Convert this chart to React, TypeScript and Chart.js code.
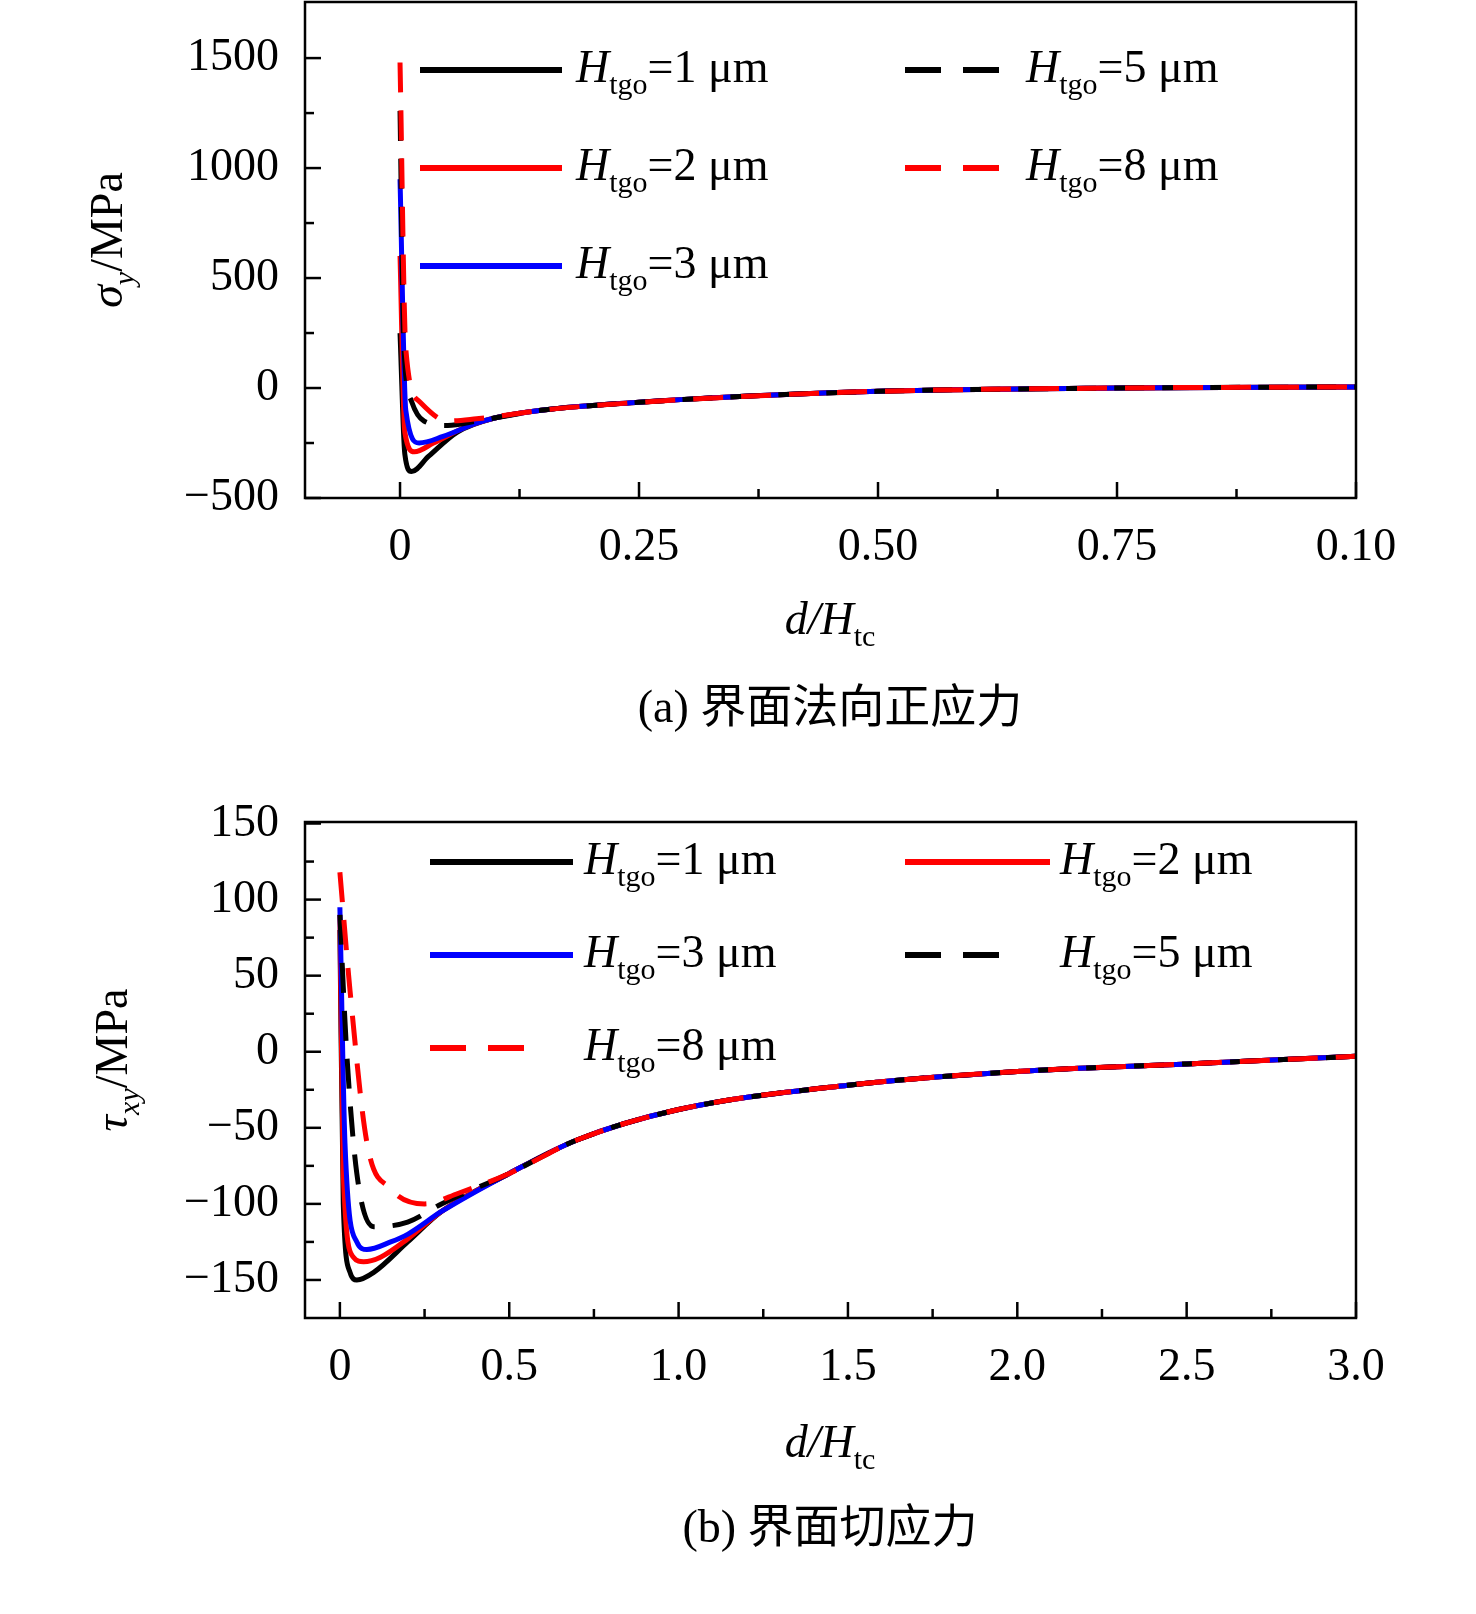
import React, { useEffect, useRef } from "react";
import { Chart, registerables } from "chart.js";
Chart.register(...registerables);

const topH1 = [[0,250],[0.005,-300],[0.012,-380],[0.03,-310],[0.06,-200],[0.1,-135],[0.15,-100],[0.25,-65],[0.35,-40],[0.5,-15],[0.75,0],[1.0,5]];
const topH2 = [[0,600],[0.005,-200],[0.015,-290],[0.035,-250],[0.07,-175],[0.1,-135],[0.15,-100],[0.25,-65],[0.35,-40],[0.5,-15],[0.75,0],[1.0,5]];
const topH3 = [[0,950],[0.006,-100],[0.02,-250],[0.045,-220],[0.08,-160],[0.1,-135],[0.15,-100],[0.25,-65],[0.35,-40],[0.5,-15],[0.75,0],[1.0,5]];
const topH5 = [[0,1260],[0.004,200],[0.012,-60],[0.025,-150],[0.05,-170],[0.08,-150],[0.1,-135],[0.15,-100],[0.25,-65],[0.35,-40],[0.5,-15],[0.75,0],[1.0,5]];
const topH8 = [[0,1480],[0.006,180],[0.02,-60],[0.05,-150],[0.08,-140],[0.1,-130],[0.15,-100],[0.25,-65],[0.35,-40],[0.5,-15],[0.75,0],[1.0,5]];

const botH1 = [[0,80],[0.01,-100],[0.03,-145],[0.05,-150],[0.1,-145],[0.2,-125],[0.3,-105],[0.5,-80],[0.7,-58],[1.0,-38],[1.5,-22],[2.0,-13],[2.5,-8],[3.0,-3]];
const botH2 = [[0,90],[0.01,-80],[0.04,-135],[0.07,-138],[0.12,-135],[0.2,-123],[0.3,-105],[0.5,-80],[0.7,-58],[1.0,-38],[1.5,-22],[2.0,-13],[2.5,-8],[3.0,-3]];
const botH3 = [[0,95],[0.015,-60],[0.05,-125],[0.08,-130],[0.15,-125],[0.2,-120],[0.3,-105],[0.5,-80],[0.7,-58],[1.0,-38],[1.5,-22],[2.0,-13],[2.5,-8],[3.0,-3]];
const botH5 = [[0,90],[0.02,0],[0.05,-80],[0.1,-115],[0.2,-112],[0.3,-100],[0.5,-80],[0.7,-58],[1.0,-38],[1.5,-22],[2.0,-13],[2.5,-8],[3.0,-3]];
const botH8 = [[0,118],[0.03,40],[0.08,-60],[0.15,-90],[0.25,-100],[0.35,-93],[0.5,-80],[0.7,-58],[1.0,-38],[1.5,-22],[2.0,-13],[2.5,-8],[3.0,-3]];

const topXTicks = [0, 0.25, 0.5, 0.75, 1.0];
const topXLabels = ["0", "0.25", "0.50", "0.75", "0.10"];
const topYTicks = [-500, 0, 500, 1000, 1500];
const botXTicks = [0, 0.5, 1.0, 1.5, 2.0, 2.5, 3.0];
const botXLabels = ["0", "0.5", "1.0", "1.5", "2.0", "2.5", "3.0"];
const botYTicks = [-150, -100, -50, 0, 50, 100, 150];
const legendValues = ["1", "2", "3", "5", "8"];

const SERIF = "'Liberation Serif', 'Times New Roman', serif";
const DASH = [30, 18];
const LEGEND_DASH = [36, 22];

function fmt(v: number) { return v < 0 ? "\u2212" + Math.abs(v) : String(v); }

function drawHLabel(ctx: any, x: number, y: number, val: string) {
  ctx.textBaseline = "middle"; ctx.textAlign = "left"; ctx.fillStyle = "#000";
  ctx.font = `italic 46px ${SERIF}`; ctx.fillText("H", x, y);
  let w = ctx.measureText("H").width;
  ctx.font = `30px ${SERIF}`; ctx.fillText("tgo", x + w, y + 16);
  w += ctx.measureText("tgo").width;
  ctx.font = `46px ${SERIF}`; ctx.fillText("=" + val + " \u03bcm", x + w, y);
}

type Cfg = {
  series: number[][][]; colors: string[]; dashed: boolean[];
  xmin: number; xmax: number; ymin: number; ymax: number;
  xTicks: number[]; xLabels: string[]; yTicks: number[]; xMinor: number[]; yMinor: number[];
  padTop: number; plotBottom: number; height: number;
  legend: { x1: number; x2: number; tx: number; y: number; idx: number }[];
  yTitle: [string, string]; yTitleX: number; xTitleY: number; caption: string; captionY: number;
};

function ChartBox({ cfg, top }: { cfg: Cfg; top: number }) {
  const ref = useRef<HTMLCanvasElement>(null);
  useEffect(() => {
    const deco = {
      id: "deco",
      afterDraw(chart: any) {
        const ctx = chart.ctx; const a = chart.chartArea;
        const xs = chart.scales.x, ys = chart.scales.y;
        ctx.save();
        ctx.strokeStyle = "#000"; ctx.lineWidth = 2.5; ctx.setLineDash([]);
        ctx.strokeRect(a.left, a.top, a.right - a.left, a.bottom - a.top);
        const tk = (x1: number, y1: number, x2: number, y2: number) => { ctx.beginPath(); ctx.moveTo(x1, y1); ctx.lineTo(x2, y2); ctx.stroke(); };
        cfg.xTicks.forEach(v => { const p = xs.getPixelForValue(v); tk(p, a.bottom, p, a.bottom - 16); });
        cfg.xMinor.forEach(v => { const p = xs.getPixelForValue(v); tk(p, a.bottom, p, a.bottom - 9); });
        cfg.yTicks.forEach(v => { const p = ys.getPixelForValue(v); tk(a.left, p, a.left + 16, p); });
        cfg.yMinor.forEach(v => { const p = ys.getPixelForValue(v); tk(a.left, p, a.left + 9, p); });
        cfg.legend.forEach(l => {
          ctx.strokeStyle = cfg.colors[l.idx]; ctx.lineWidth = 6;
          ctx.setLineDash(cfg.dashed[l.idx] ? LEGEND_DASH : []);
          tk(l.x1, l.y, l.x2, l.y);
          ctx.setLineDash([]);
          drawHLabel(ctx, l.tx, l.y, legendValues[l.idx]);
        });
        ctx.save();
        ctx.translate(cfg.yTitleX, (a.top + a.bottom) / 2 - 10);
        ctx.rotate(-Math.PI / 2);
        ctx.textBaseline = "middle"; ctx.fillStyle = "#000";
        ctx.font = `italic 46px ${SERIF}`;
        const w1 = ctx.measureText(cfg.yTitle[0]).width;
        ctx.font = `italic 30px ${SERIF}`;
        const w2 = ctx.measureText(cfg.yTitle[1]).width;
        ctx.font = `46px ${SERIF}`;
        const w3 = ctx.measureText("/MPa").width;
        let x = -(w1 + w2 + w3) / 2;
        ctx.textAlign = "left";
        ctx.font = `italic 46px ${SERIF}`; ctx.fillText(cfg.yTitle[0], x, 0); x += w1;
        ctx.font = `italic 30px ${SERIF}`; ctx.fillText(cfg.yTitle[1], x, 16); x += w2;
        ctx.font = `46px ${SERIF}`; ctx.fillText("/MPa", x, 0);
        ctx.restore();
        ctx.textBaseline = "middle"; ctx.fillStyle = "#000"; ctx.textAlign = "left";
        ctx.font = `italic 46px ${SERIF}`;
        const t1 = ctx.measureText("d/H").width;
        ctx.font = `30px ${SERIF}`;
        const t2 = ctx.measureText("tc").width;
        let xx = 830 - (t1 + t2) / 2;
        ctx.font = `italic 46px ${SERIF}`; ctx.fillText("d/H", xx, cfg.xTitleY);
        ctx.font = `30px ${SERIF}`; ctx.fillText("tc", xx + t1, cfg.xTitleY + 16);
        ctx.textAlign = "center";
        ctx.font = `46px ${SERIF}, 'Noto Sans CJK SC'`;
        ctx.fillText(cfg.caption, 830, cfg.captionY);
        ctx.restore();
      },
    };
    const chart = new Chart(ref.current!, {
      type: "line",
      data: {
        datasets: cfg.series.map((s, i) => ({
          data: s.map(p => ({ x: p[0], y: p[1] })),
          borderColor: cfg.colors[i], borderWidth: 5, borderDash: cfg.dashed[i] ? DASH : [],
          order: cfg.series.length - i,
          pointRadius: 0, cubicInterpolationMode: "monotone" as const, fill: false,
        })),
      },
      options: {
        animation: false, responsive: false, devicePixelRatio: 1,
        layout: { padding: { left: 0, right: 120, top: cfg.padTop, bottom: 0 } },
        plugins: { legend: { display: false }, tooltip: { enabled: false } },
        scales: {
          x: {
            type: "linear", min: cfg.xmin, max: cfg.xmax,
            afterBuildTicks: (s: any) => { s.ticks = cfg.xTicks.map(v => ({ value: v })); },
            afterFit: (s: any) => { s.height = cfg.height - cfg.plotBottom; s.paddingLeft = 0; s.paddingRight = 0; },
            grid: { display: false }, border: { display: false },
            ticks: { color: "#000", padding: 14, maxRotation: 0, font: { family: SERIF, size: 46 },
              callback: (v: any) => { const i = cfg.xTicks.findIndex(t => Math.abs(t - v) < 1e-9); return i >= 0 ? cfg.xLabels[i] : ""; } },
          },
          y: {
            type: "linear", min: cfg.ymin, max: cfg.ymax,
            afterBuildTicks: (s: any) => { s.ticks = cfg.yTicks.map(v => ({ value: v })); },
            afterFit: (s: any) => { s.width = 305; s.paddingTop = 0; s.paddingBottom = 0; },
            grid: { display: false }, border: { display: false },
            ticks: { color: "#000", padding: 18, font: { family: SERIF, size: 46 }, callback: (v: any) => fmt(Number(v)) },
          },
        },
      },
      plugins: [deco],
    } as any);
    return () => chart.destroy();
  }, []);
  return <canvas ref={ref} width={1476} height={cfg.height} style={{ position: "absolute", left: 0, top }} />;
}

const topCfg: Cfg = {
  series: [topH1, topH2, topH3, topH5, topH8],
  colors: ["#000", "#f00", "#00f", "#000", "#f00"], dashed: [false, false, false, true, true],
  xmin: -0.0994, xmax: 1.0, ymin: -500, ymax: 1755,
  xTicks: topXTicks, xLabels: topXLabels, yTicks: topYTicks,
  xMinor: [0.125, 0.375, 0.625, 0.875], yMinor: [-250, 250, 750, 1250],
  padTop: 2, plotBottom: 498, height: 760,
  legend: [
    { x1: 420, x2: 562, tx: 576, y: 70, idx: 0 },
    { x1: 420, x2: 562, tx: 576, y: 168, idx: 1 },
    { x1: 420, x2: 562, tx: 576, y: 266, idx: 2 },
    { x1: 905, x2: 1015, tx: 1026, y: 70, idx: 3 },
    { x1: 905, x2: 1015, tx: 1026, y: 168, idx: 4 },
  ],
  yTitle: ["\u03c3", "y"], yTitleX: 110, xTitleY: 622, caption: "(a) 界面法向正应力", captionY: 710,
};

const botCfg: Cfg = {
  series: [botH1, botH2, botH3, botH5, botH8],
  colors: ["#000", "#f00", "#00f", "#000", "#f00"], dashed: [false, false, false, true, true],
  xmin: -0.103, xmax: 3.0, ymin: -175, ymax: 151,
  xTicks: botXTicks, xLabels: botXLabels, yTicks: botYTicks,
  xMinor: [0.25, 0.75, 1.25, 1.75, 2.25, 2.75], yMinor: [-125, -75, -25, 25, 75, 125],
  padTop: 62, plotBottom: 558, height: 854,
  legend: [
    { x1: 430, x2: 573, tx: 584, y: 102, idx: 0 },
    { x1: 905, x2: 1050, tx: 1060, y: 102, idx: 1 },
    { x1: 430, x2: 573, tx: 584, y: 195, idx: 2 },
    { x1: 905, x2: 1015, tx: 1060, y: 195, idx: 3 },
    { x1: 430, x2: 540, tx: 584, y: 288, idx: 4 },
  ],
  yTitle: ["\u03c4", "xy"], yTitleX: 115, xTitleY: 685, caption: "(b) 界面切应力", captionY: 770,
};

export default function App() {
  useEffect(() => { document.body.style.margin = "0"; }, []);
  return (
    <div style={{ position: "relative", width: 1476, height: 1614, background: "#fff" }}>
      <ChartBox cfg={topCfg} top={0} />
      <ChartBox cfg={botCfg} top={760} />
    </div>
  );
}
